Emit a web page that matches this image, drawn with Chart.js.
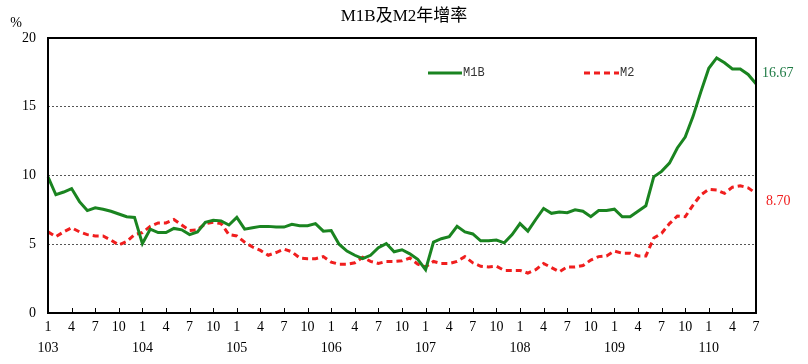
<!DOCTYPE html>
<html>
<head>
<meta charset="utf-8">
<script src="https://cdn.jsdelivr.net/npm/chart.js@4.4.1/dist/chart.umd.min.js"></script>
<style>
  html, body { margin: 0; padding: 0; background: #fff; }
  #wrap { width: 808px; height: 364px; }
</style>
</head>
<body>
<div id="wrap"><canvas id="moneyChart" width="808" height="364"></canvas></div>
<script>
// Year labels (ROC calendar) and the month ticks shown on the axis
const years = ['103', '104', '105', '106', '107', '108', '109', '110'];
const lastMonth = 7;           // data ends at 110/7
const tickMonths = [1, 4, 7, 10];
const yTicks = [0, 5, 10, 15, 20];

// M1B annual growth rate (%)
const m1b = [
  9.9, 8.6, 8.8, 9.05, 8.1, 7.45, 7.65, 7.55, 7.4, 7.2, 7.0, 6.95,
  5.05, 6.1, 5.85, 5.85, 6.15, 6.05, 5.7, 5.9, 6.6, 6.75, 6.7, 6.4,
  6.95, 6.1, 6.2, 6.3, 6.3, 6.25, 6.25, 6.45, 6.35, 6.35, 6.5, 5.95,
  6.0, 5.0, 4.5, 4.2, 3.95, 4.2, 4.75, 5.05, 4.45, 4.6, 4.3, 3.9,
  3.15, 5.15, 5.4, 5.55, 6.3, 5.9, 5.75, 5.25, 5.25, 5.3, 5.1, 5.7,
  6.5, 5.95, 6.8, 7.6, 7.25, 7.35, 7.3, 7.5, 7.4, 7.0, 7.45, 7.45,
  7.55, 7.0, 7.0, 7.4, 7.8, 9.9, 10.3, 10.9, 12.0, 12.8, 14.3, 16.1,
  17.8, 18.55, 18.2, 17.75, 17.75, 17.35, 16.67
];

// M2 annual growth rate (%)
const m2 = [
  5.9, 5.55, 5.9, 6.2, 5.9, 5.7, 5.6, 5.6, 5.3, 4.95, 5.2, 5.7,
  5.85, 6.3, 6.55, 6.55, 6.8, 6.4, 6.0, 6.05, 6.5, 6.6, 6.5, 5.7,
  5.6, 5.15, 4.8, 4.55, 4.2, 4.4, 4.65, 4.45, 4.0, 3.95, 3.95, 4.1,
  3.7, 3.55, 3.55, 3.65, 4.05, 3.75, 3.6, 3.75, 3.75, 3.8, 4.0, 3.55,
  3.35, 3.75, 3.6, 3.6, 3.75, 4.1, 3.65, 3.4, 3.35, 3.4, 3.1, 3.1,
  3.1, 2.9, 3.15, 3.6, 3.3, 3.0, 3.35, 3.35, 3.45, 3.85, 4.1, 4.15,
  4.5, 4.35, 4.35, 4.15, 4.15, 5.45, 5.8, 6.5, 7.05, 7.0, 7.85, 8.6,
  9.0, 8.95, 8.7, 9.15, 9.25, 9.1, 8.70
];

// build "year/month" category labels
const labels = [];
years.forEach((y, i) => {
  const n = i === years.length - 1 ? lastMonth : 12;
  for (let m = 1; m <= n; m++) labels.push(y + '/' + m);
});

const serif = '"Liberation Serif", "Times New Roman", "Noto Sans CJK TC", serif';
const green = '#1a8420';
const red = '#f01e1e';

// draws title, frame, inward x ticks, legend and end-value labels
const decorPlugin = {
  id: 'decor',
  afterDraw(chart) {
    const ctx = chart.ctx;
    const a = chart.chartArea;
    const x = chart.scales.x;
    ctx.save();

    // title
    ctx.fillStyle = '#000';
    ctx.font = '17px ' + serif;
    ctx.textAlign = 'center';
    ctx.textBaseline = 'middle';
    ctx.fillText('M1B及M2年增率', 404, 17);

    // unit
    ctx.font = '14px ' + serif;
    ctx.fillText('%', 16, 23);

    // inward ticks on the x axis
    ctx.strokeStyle = '#000';
    ctx.lineWidth = 1;
    labels.forEach((lab, i) => {
      const m = +lab.split('/')[1];
      if (!tickMonths.includes(m)) return;
      const px = Math.round(x.getPixelForValue(i)) + 0.5;
      ctx.beginPath();
      ctx.moveTo(px, a.bottom);
      ctx.lineTo(px, a.bottom - 5);
      ctx.stroke();
    });

    // plot frame
    ctx.lineWidth = 2;
    ctx.strokeRect(a.left, a.top, a.right - a.left, a.bottom - a.top);

    // legend
    ctx.lineWidth = 3;
    ctx.strokeStyle = green;
    ctx.beginPath();
    ctx.moveTo(428, 73); ctx.lineTo(462, 73);
    ctx.stroke();
    ctx.strokeStyle = red;
    ctx.setLineDash([6, 4]);
    ctx.beginPath();
    ctx.moveTo(584, 73); ctx.lineTo(619, 73);
    ctx.stroke();
    ctx.setLineDash([]);
    ctx.fillStyle = '#333';
    ctx.font = '12px "Liberation Mono", "DejaVu Sans Mono", monospace';
    ctx.textAlign = 'left';
    ctx.fillText('M1B', 463, 73);
    ctx.fillText('M2', 620, 73);

    // last values
    const y = chart.scales.y;
    ctx.font = '14px ' + serif;
    ctx.fillStyle = '#1e7a44';
    ctx.fillText(m1b[m1b.length - 1].toFixed(2), 762, y.getPixelForValue(m1b[m1b.length - 1]) - 10);
    ctx.fillStyle = red;
    ctx.fillText(m2[m2.length - 1].toFixed(2), 766, y.getPixelForValue(m2[m2.length - 1]) + 8);

    ctx.restore();
  }
};

new Chart(document.getElementById('moneyChart'), {
  type: 'line',
  data: {
    labels: labels,
    datasets: [
      {
        label: 'M1B',
        data: m1b,
        borderColor: green,
        borderWidth: 3,
        pointRadius: 0,
        tension: 0,
        fill: false
      },
      {
        label: 'M2',
        data: m2,
        borderColor: red,
        borderWidth: 3,
        borderDash: [6, 4],
        pointRadius: 0,
        tension: 0,
        fill: false
      }
    ]
  },
  options: {
    responsive: false,
    animation: false,
    layout: {
      padding: { left: 0, top: 38, right: 52, bottom: 0 }
    },
    plugins: {
      legend: { display: false },
      title: { display: false },
      tooltip: { enabled: false }
    },
    scales: {
      x: {
        offset: false,
        grid: { display: false, drawTicks: false },
        border: { display: false },
        afterFit(scale) { scale.height = 51; },
        ticks: {
          autoSkip: false,
          maxRotation: 0,
          padding: 4,
          color: '#000',
          font: { family: serif, size: 14, lineHeight: 1.5 },
          callback(val, idx) {
            const parts = labels[idx].split('/');
            const m = +parts[1];
            if (!tickMonths.includes(m)) return null;
            return m === 1 ? [String(m), parts[0]] : [String(m), ''];
          }
        }
      },
      y: {
        min: 0,
        max: 20,
        afterFit(scale) { scale.width = 48; },
        afterBuildTicks(scale) { scale.ticks = yTicks.map(v => ({ value: v })); },
        border: { display: false, dash: [2, 2] },
        grid: {
          drawTicks: false,
          color: ctx => (ctx.tick && (ctx.tick.value === 0 || ctx.tick.value === 20)) ? 'rgba(0,0,0,0)' : '#555',
          lineWidth: 1
        },
        ticks: {
          padding: 12,
          color: '#000',
          font: { family: serif, size: 14 }
        }
      }
    }
  },
  plugins: [decorPlugin]
});
</script>
</body>
</html>
